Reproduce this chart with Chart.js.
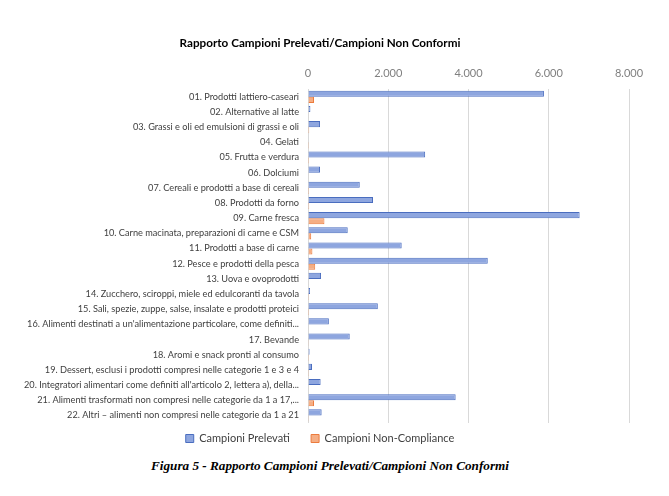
<!DOCTYPE html>
<html lang="it">
<head>
    <meta charset="UTF-8">
    <title>index</title>
    <script src="https://cdn.jsdelivr.net/npm/chart.js@4.4.1/dist/chart.umd.min.js"></script>
    <style>
        html, body {
            margin: 0;
            padding: 0;
            background: #ffffff;
        }

        .chart-container {
            position: absolute;
            left: 11px;
            top: 23px;
            width: 658px;
            height: 431px;
        }

        .caption {
            position: absolute;
            left: 0;
            top: 458px;
            width: 669px;
            text-align: center;
            font-family: "Liberation Serif", "DejaVu Serif", serif;
            font-weight: bold;
            font-style: italic;
            font-size: 13.2px;
            color: #000;
            padding-right: 9px;
            box-sizing: border-box;
        }
    </style>
</head>
<body>

<div class="chart-container">
    <canvas id="canvas"></canvas>
</div>
<div class="caption">Figura 5 - Rapporto Campioni Prelevati/Campioni Non Conformi</div>

<script>
    var categories = [
        "01. Prodotti lattiero-caseari",
        "02. Alternative al latte",
        "03. Grassi e oli ed emulsioni di grassi e oli",
        "04. Gelati",
        "05. Frutta e verdura",
        "06. Dolciumi",
        "07. Cereali e prodotti a base di cereali",
        "08. Prodotti da forno",
        "09. Carne fresca",
        "10. Carne macinata, preparazioni di carne e CSM",
        "11. Prodotti a base di carne",
        "12. Pesce e prodotti della pesca",
        "13. Uova e ovoprodotti",
        "14. Zucchero, sciroppi, miele ed edulcoranti da tavola",
        "15. Sali, spezie, zuppe, salse, insalate e prodotti proteici",
        "16. Alimenti destinati a un'alimentazione particolare, come definiti...",
        "17. Bevande",
        "18. Aromi e snack pronti al consumo",
        "19. Dessert, esclusi i prodotti compresi nelle categorie 1 e 3 e 4",
        "20. Integratori alimentari come definiti all'articolo 2, lettera a), della...",
        "21. Alimenti trasformati non compresi nelle categorie da 1 a 17,...",
        "22. Altri \u2013 alimenti non compresi nelle categorie da 1 a 21"
    ];

    var prelevati = [5880, 60, 300, 10, 2920, 300, 1290, 1620, 6770, 990, 2335, 4480,
        325, 50, 1740, 520, 1040, 40, 100, 315, 3680, 340];

    var nonCompliance = [150, 15, 30, 2, 25, 15, 25, 30, 410, 80, 110, 180,
        10, 3, 25, 10, 20, 2, 3, 10, 150, 20];

    var xTicks = [0, 2000, 4000, 6000, 8000];

    function formatNumber(v) {
        return String(v).replace(/\B(?=(\d{3})+(?!\d))/g, '.');
    }

    var ctx = document.getElementById('canvas').getContext('2d');
    window.myBar = new Chart(ctx, {
        type: 'bar',
        data: {
            labels: categories,
            datasets: [{
                label: 'Campioni Prelevati',
                data: prelevati,
                backgroundColor: '#8ea6df',
                borderColor: '#4a6dbf',
                borderWidth: 1,
                categoryPercentage: 0.8,
                barPercentage: 1.0
            }, {
                label: 'Campioni Non-Compliance',
                data: nonCompliance,
                backgroundColor: '#f5ae84',
                borderColor: '#ec7b3d',
                borderWidth: 1,
                categoryPercentage: 0.8,
                barPercentage: 1.0
            }]
        },
        options: {
            indexAxis: 'y',
            responsive: true,
            maintainAspectRatio: false,
            animation: false,
            layout: {
                padding: {left: 0, right: 40, top: 0, bottom: 0}
            },
            plugins: {
                title: {
                    display: true,
                    text: 'Rapporto Campioni Prelevati/Campioni Non Conformi',
                    color: '#000000',
                    font: {family: 'Lato', size: 11.7, weight: 'bold'},
                    padding: {top: 13, bottom: 8}
                },
                legend: {
                    position: 'bottom',
                    labels: {
                        boxWidth: 8,
                        boxHeight: 8,
                        color: '#404040',
                        font: {family: 'Lato', size: 11},
                        padding: 10,
                        generateLabels: function (chart) {
                            var items = Chart.defaults.plugins.legend.labels.generateLabels(chart);
                            // wider gap between the two entries, like the original
                            items[0].text = items[0].text + '    ';
                            return items;
                        }
                    }
                },
                tooltip: {enabled: false}
            },
            scales: {
                x: {
                    position: 'top',
                    min: 0,
                    max: 8000,
                    afterBuildTicks: function (scale) {
                        scale.ticks = xTicks.map(function (v) {
                            return {value: v};
                        });
                    },
                    ticks: {
                        color: '#808080',
                        font: {family: 'Lato', size: 11},
                        padding: 9,
                        callback: function (v) {
                            return formatNumber(v);
                        }
                    },
                    grid: {
                        color: '#d9d9d9',
                        drawTicks: false
                    },
                    border: {display: false}
                },
                y: {
                    afterFit: function (scale) {
                        scale.width = 297;
                    },
                    ticks: {
                        color: '#404040',
                        font: {family: 'Lato', size: 9.2},
                        padding: 9,
                        autoSkip: false
                    },
                    grid: {display: false, drawTicks: false},
                    border: {display: false}
                }
            }
        }
    });
</script>
</body>
</html>
